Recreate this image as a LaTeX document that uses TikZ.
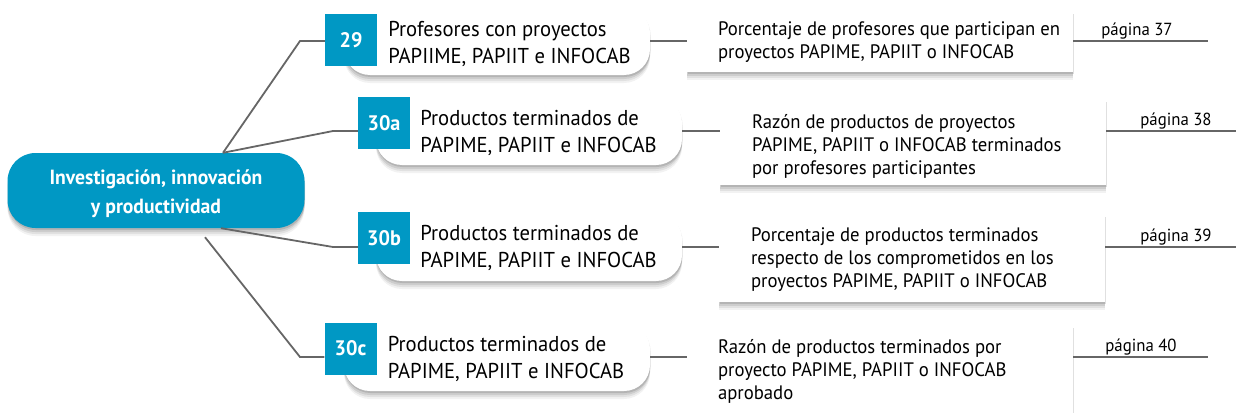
\documentclass[tikz,border=0pt]{standalone}
\usepackage{fontspec}
\setmainfont{PT Sans}[FakeStretch=0.96]
\definecolor{azul}{RGB}{0,152,196}
\definecolor{gris}{RGB}{102,102,102}

\begin{document}
\begin{tikzpicture}[x=1pt, y=-1pt,
    sombra/.style={preaction={fill=black, opacity=.05, transform canvas={yshift=-8pt}},
        preaction={fill=black, opacity=.07, transform canvas={yshift=-6pt}},
        preaction={fill=black, opacity=.09, transform canvas={yshift=-4pt}},
        preaction={fill=black, opacity=.12, transform canvas={xshift=.5pt, yshift=-2pt}}},
    tema/.style={rounded corners=28pt, fill=azul, minimum width=297pt, minimum height=75pt,
        text=white, align=center, font=\fontsize{20.5}{29}\selectfont\bfseries, sombra},
    pildora/.style={rounded corners=26pt, fill=white, minimum width=306pt, minimum height=68pt, sombra},
    numero/.style={fill=azul, minimum size=52pt, inner sep=0pt, text=white,
        font=\fontsize{21}{21}\selectfont\bfseries},
    titulo/.style={anchor=west, align=left, inner sep=0pt, font=\fontsize{21.5}{27}\selectfont},
    caja/.style={fill=white, minimum width=386pt, sombra},
    texto/.style={anchor=north west, align=left, inner sep=0pt, font=\fontsize{19.5}{23}\selectfont},
    pagina/.style={inner sep=0pt, font=\fontsize{17.5}{17.5}\selectfont},
    rama/.style={gris, line width=1.8pt},
    enlace/.style={gris, line width=2.8pt}]
    \useasboundingbox (0,0) rectangle (1236,412);

    % tema central
    \node[tema] (main) at (156,190.5) {};
    \node[text=white, align=center, inner sep=0pt, font=\fontsize{20.5}{29}\selectfont\bfseries]
        (mainlbl) at (156,194) {Investigación, innovación\\y productividad};

    % indicadores
    \node[pildora] (p29) at (497,41) {};
    \node[numero] (n29) at (351,40) {29};
    \node[titulo] (t29) at ([xshift=11pt, yshift=-4pt]n29.east) {Profesores con proyectos\\PAPIIME, PAPIIT e INFOCAB};

    \node[pildora] (p30a) at (529,131) {};
    \node[numero] (n30a) at (384,123) {30a};
    \node[titulo] (t30a) at ([xshift=10pt, yshift=-10pt]n30a.east) {Productos terminados de\\PAPIME, PAPIIT e INFOCAB};

    \node[pildora] (p30b) at (529,247) {};
    \node[numero] (n30b) at (384,238) {30b};
    \node[titulo] (t30b) at ([xshift=10pt, yshift=-10pt]n30b.east) {Productos terminados de\\PAPIME, PAPIIT e INFOCAB};

    \node[pildora] (p30c) at (497,357) {};
    \node[numero] (n30c) at (350.5,348.5) {30c};
    \node[titulo] (t30c) at ([xshift=11pt, yshift=-10pt]n30c.east) {Productos terminados de\\PAPIME, PAPIIT e INFOCAB};

    % descripciones
    \node[caja, minimum height=60pt] (d29) at (880,42) {};
    \node[texto] (x29) at ([xshift=31pt, yshift=-10pt]d29.north west) {Porcentaje de profesores que participan en\\proyectos PAPIME, PAPIIT o INFOCAB};
    \node[caja, minimum height=85pt] (d30a) at (913,142.5) {};
    \node[texto] (x30a) at ([xshift=32pt, yshift=-14pt]d30a.north west) {Razón de productos de proyectos\\PAPIME, PAPIIT o INFOCAB terminados\\por profesores participantes};
    \node[caja, minimum height=87pt] (d30b) at (912,258.5) {};
    \node[texto] (x30b) at ([xshift=32pt, yshift=-13pt]d30b.north west) {Porcentaje de productos terminados\\respecto de los comprometidos en los\\proyectos PAPIME, PAPIIT o INFOCAB};
    \node[caja, minimum height=92pt] (d30c) at (880,372) {};
    \node[texto] (x30c) at ([xshift=31pt, yshift=-13pt]d30c.north west) {Razón de productos terminados por\\proyecto PAPIME, PAPIIT o INFOCAB\\aprobado};

    % paginas
    \node[pagina] (g29) at (1137,31) {página 37};
    \node[pagina] (g30a) at (1176,121) {página 38};
    \node[pagina] (g30b) at (1176,237) {página 39};
    \node[pagina] (g30c) at (1141,347) {página 40};

    \coordinate (k29) at (300,41);
    \coordinate (k30a) at (333,131);
    \coordinate (k30b) at (333,247);
    \coordinate (k30c) at (300,357);
    \coordinate (e29) at (1208,41);
    \coordinate (e30a) at (1236,131);
    \coordinate (e30b) at (1236,247);
    \coordinate (e30c) at (1208,357);

    \draw[rama] ([xshift=67pt]main.north) -- (k29) -- (k29 -| n29.west);
    \draw[rama] ([xshift=67pt]main.north) -- (k30a) -- (k30a -| n30a.west);
    \draw[rama] ([xshift=65pt]main.south) -- (k30b) -- (k30b -| n30b.west);
    \draw[rama] ([xshift=49pt, yshift=-9pt]main.south) -- (k30c) -- (k30c -| n30c.west);

    \draw[enlace] (p29.east) -- (p29.east -| d29.west);
    \draw[enlace] (p30a.east) -- (p30a.east -| d30a.west);
    \draw[enlace] (p30b.east) -- (p30b.east -| d30b.west);
    \draw[enlace] (p30c.east) -- (p30c.east -| d30c.west);

    \draw[enlace] (e29 -| d29.east) -- (e29);
    \draw[enlace] (e30a -| d30a.east) -- (e30a);
    \draw[enlace] (e30b -| d30b.east) -- (e30b);
    \draw[enlace] (e30c -| d30c.east) -- (e30c);
\end{tikzpicture}
\end{document}
